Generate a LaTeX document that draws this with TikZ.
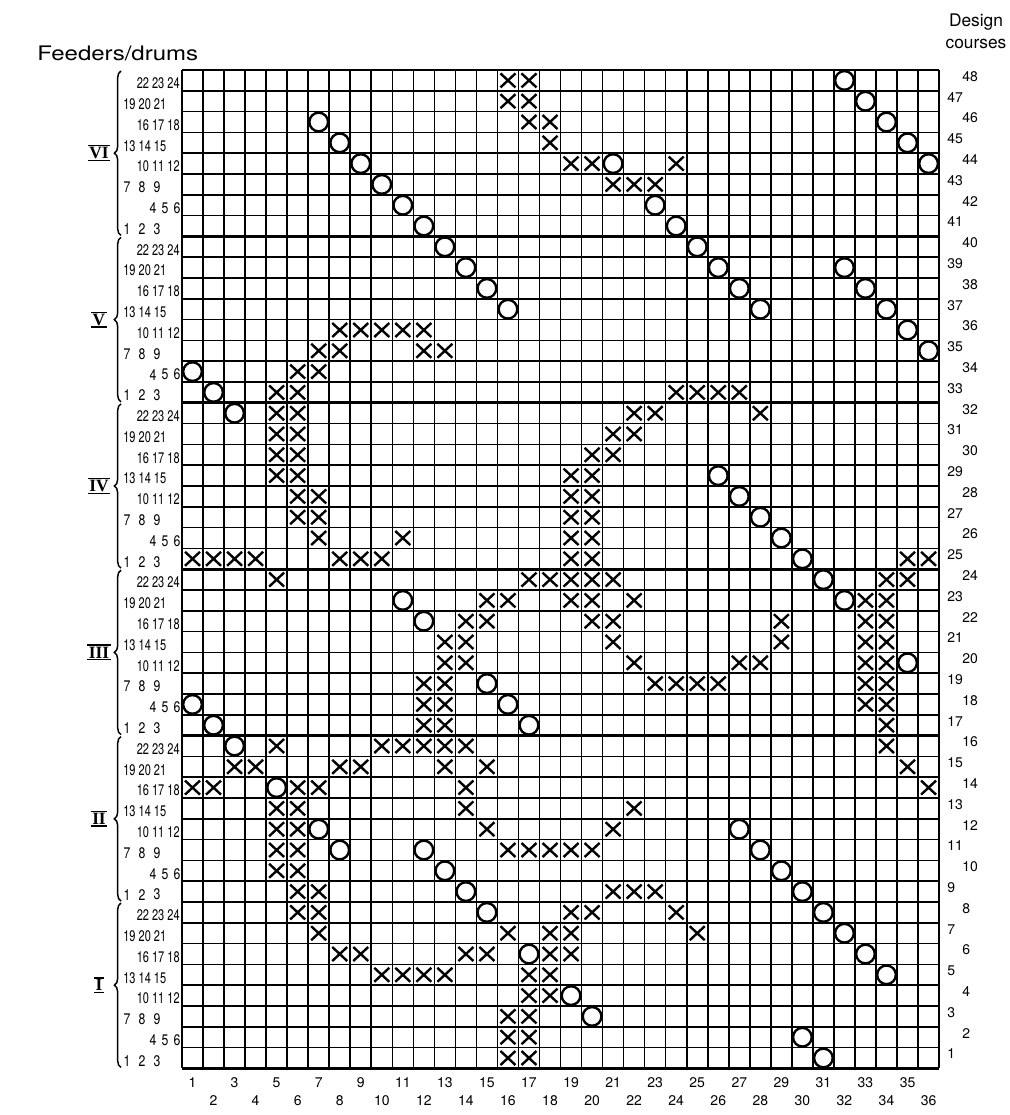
\documentclass[tikz,border=0pt]{standalone}
\usepackage{fontspec}
\setmainfont{TeX Gyre Heros}
\newfontfamily\romfont{Liberation Serif}
\usetikzlibrary{decorations.pathreplacing}
\begin{document}
\begin{tikzpicture}[x=0.75pt,y=-0.75pt,
  gridln/.style={line width=1.2pt},
  grpln/.style={line width=2pt},
  mk/.style={line width=1.8pt},
  lbl/.style={font=\fontsize{10.5}{12}\selectfont, inner sep=0pt},
  flb/.style={font=\fontsize{11.5}{14}\selectfont, inner sep=0pt},
  ttl/.style={font=\fontsize{13}{15}\selectfont, inner sep=0pt},
  rom/.style={font=\romfont\bfseries\fontsize{13}{15}\selectfont, inner sep=1pt},
  brc/.style={decorate, decoration={brace, amplitude=5pt}, line width=1.1pt}]
\useasboundingbox (0,0) rectangle (1010,1115);
\def\GX{182}\def\CW{21.03}\def\GY{70}\def\RH{20.8}
% grid
\foreach \i in {0,...,36} \draw[gridln] ({\GX+\i*\CW},\GY) -- ({\GX+\i*\CW},{\GY+48*\RH});
\foreach \j in {0,...,48} \draw[gridln] (\GX,{\GY+\j*\RH}) -- ({\GX+36*\CW},{\GY+\j*\RH});
\foreach \j in {0,8,...,48} \draw[grpln] (\GX,{\GY+\j*\RH}) -- ({\GX+36*\CW},{\GY+\j*\RH});
\draw[grpln] (\GX,\GY) -- (\GX,{\GY+48*\RH}) ({\GX+36*\CW},\GY) -- ({\GX+36*\CW},{\GY+48*\RH});
% crosses
\foreach \r/\cs in {48/{16,17},47/{16,17},46/{17,18},45/{18},44/{19,20,24},43/{21,22,23},
  36/{8,9,10,11,12},35/{7,8,12,13},34/{6,7},33/{5,6,24,25,26,27},32/{5,6,22,23,28},
  31/{5,6,21,22},30/{5,6,20,21},29/{5,6,19,20},28/{6,7,19,20},27/{6,7,19,20},
  26/{7,11,19,20},25/{1,2,3,4,8,9,10,19,20,35,36},24/{5,17,18,19,20,21,34,35},
  23/{15,16,19,20,22,33,34},22/{14,15,20,21,29,33,34},21/{13,14,21,29,33,34},
  20/{13,14,22,27,28,33,34},19/{12,13,23,24,25,26,33,34},18/{12,13,33,34},
  17/{12,13,34},16/{5,10,11,12,13,14,34},15/{3,4,8,9,13,15,35},14/{1,2,6,7,14,36},
  13/{5,6,14,22},12/{5,6,15,21},11/{5,6,16,17,18,19,20},10/{5,6},9/{6,7,21,22,23},
  8/{6,7,19,20,24},7/{7,16,18,19,25},6/{8,9,14,15,18,19},5/{10,11,12,13,17,18},
  4/{17,18},3/{16,17},2/{16,17},1/{16,17}}{
  \foreach \c in \cs {
    \pgfmathsetmacro\cx{\GX+(\c-0.5)*\CW}
    \pgfmathsetmacro\cy{\GY+(48.5-\r)*\RH}
    \draw[mk] ({\cx-7.5},{\cy-7}) -- ({\cx+7.5},{\cy+7}) ({\cx-7.5},{\cy+7}) -- ({\cx+7.5},{\cy-7});
  }}
% circles
\foreach \r/\cs in {48/{32},47/{33},46/{7,34},45/{8,35},44/{9,21,36},43/{10},42/{11,23},
  41/{12,24},40/{13,25},39/{14,26,32},38/{15,27,33},37/{16,28,34},36/{35},35/{36},
  34/{1},33/{2},32/{3},29/{26},28/{27},27/{28},26/{29},25/{30},24/{31},23/{11,32},
  22/{12},20/{35},19/{15},18/{1,16},17/{2,17},16/{3},14/{5},12/{7,27},11/{8,12,28},
  10/{13,29},9/{14,30},8/{15,31},7/{32},6/{17,33},5/{34},4/{19},3/{20},2/{30},1/{31}}{
  \foreach \c in \cs {
    \pgfmathsetmacro\cx{\GX+(\c-0.5)*\CW}
    \pgfmathsetmacro\cy{\GY+(48.5-\r)*\RH}
    \draw[mk] (\cx,\cy) circle[radius=7pt];
  }}
% left feeder labels
\foreach \g in {0,...,5}{
  \foreach \k/\a/\b/\c in {1/1/2/3,3/7/8/9}{
    \pgfmathsetmacro\cy{\GY+(48.5-8*\g-\k)*\RH+3}
    \node[flb] (fl\g-\k a) at (127,\cy) {\scalebox{0.8}[1]{\a}};
    \node[flb] (fl\g-\k b) at (142,\cy) {\scalebox{0.8}[1]{\b}};
    \node[flb] (fl\g-\k c) at (157,\cy) {\scalebox{0.8}[1]{\c}};
  }
  \foreach \k/\a/\b/\c in {2/4/5/6}{
    \pgfmathsetmacro\cy{\GY+(48.5-8*\g-\k)*\RH+3}
    \node[flb] (fl\g-\k a) at (153,\cy) {\scalebox{0.8}[1]{\a}};
    \node[flb] (fl\g-\k b) at (165,\cy) {\scalebox{0.8}[1]{\b}};
    \node[flb] (fl\g-\k c) at (177,\cy) {\scalebox{0.8}[1]{\c}};
  }
  \foreach \k/\t in {5/{13 14 15},7/{19 20 21}}{
    \pgfmathsetmacro\cy{\GY+(48.5-8*\g-\k)*\RH+3}
    \node[flb,anchor=west] (fl\g-\k) at (123,\cy) {\scalebox{0.72}[1]{\t}};
  }
  \foreach \k/\t in {4/{10 11 12},6/{16 17 18},8/{22 23 24}}{
    \pgfmathsetmacro\cy{\GY+(48.5-8*\g-\k)*\RH+3}
    \node[flb,anchor=east] (fl\g-\k) at (180,\cy) {\scalebox{0.72}[1]{\t}};
  }
}
% braces and roman numerals
\foreach \g/\R in {0/I,1/II,2/III,3/IV,4/V,5/VI}{
  \pgfmathsetmacro\yb{\GY+(48-8*\g)*\RH-1}
  \pgfmathsetmacro\yt{\GY+(40-8*\g)*\RH+1}
  \pgfmathsetmacro\ym{\GY+(44-8*\g)*\RH}
  \draw[brc] (121,\yb) -- (121,\yt);
  \node[rom] (rn\g) at (99,\ym) {\R};
  \draw[line width=1pt] (rn\g.north west) -- (rn\g.north east) (rn\g.south west) -- (rn\g.south east);
}
% right labels
\foreach \r in {1,3,...,47}{
  \pgfmathsetmacro\cy{\GY+(48.5-\r)*\RH-4}
  \node[lbl,anchor=west] (rl\r) at (947,\cy) {\r};
}
\foreach \r in {2,4,...,48}{
  \pgfmathsetmacro\cy{\GY+(48.5-\r)*\RH-4}
  \node[lbl,anchor=west] (rl\r) at (962,\cy) {\r};
}
% bottom labels
\foreach \c in {1,3,...,35}{
  \pgfmathsetmacro\cx{\GX+(\c-0.5)*\CW}
  \node[lbl] (bl\c) at (\cx,1083) {\c};
}
\foreach \c in {2,4,...,36}{
  \pgfmathsetmacro\cx{\GX+(\c-0.5)*\CW}
  \node[lbl] (bl\c) at (\cx,1101) {\c};
}
% titles
\node[font=\fontsize{15}{17}\selectfont, inner sep=0pt, anchor=west] (feed) at (37,53) {\scalebox{1.2}[1]{Feeders/drums}};
\node[ttl] (des) at (976,22) {Design};
\node[ttl] (cou) at (976,44) {courses};
\end{tikzpicture}
\end{document}
